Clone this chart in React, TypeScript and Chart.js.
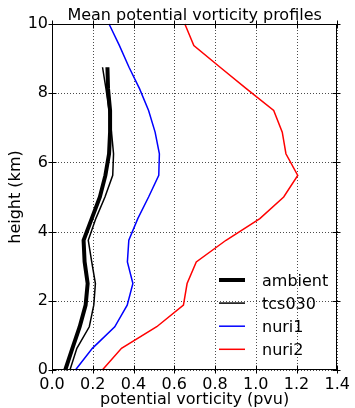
import React, { useEffect, useRef } from 'react';
import { Chart, registerables } from 'chart.js';

Chart.register(...registerables);

// ---- data ----
const heightsKm = [0, 0.625, 1.25, 1.875, 2.5, 3.125, 3.75, 4.375, 5.0, 5.625, 6.25, 6.875, 7.5, 8.125, 8.75, 9.375, 10.0];
const ambientPV = [0.065, 0.1, 0.136, 0.165, 0.175, 0.16, 0.155, 0.195, 0.235, 0.262, 0.28, 0.285, 0.285, 0.275, 0.272];
const tcs030PV = [0.088, 0.122, 0.183, 0.205, 0.213, 0.195, 0.178, 0.215, 0.26, 0.298, 0.302, 0.292, 0.28, 0.265, 0.248];
const nuri1PV = [0.115, 0.198, 0.308, 0.369, 0.397, 0.37, 0.377, 0.421, 0.474, 0.524, 0.527, 0.506, 0.474, 0.43, 0.378, 0.331, 0.28];
const nuri2PV = [0.247, 0.341, 0.514, 0.645, 0.663, 0.708, 0.854, 1.02, 1.137, 1.206, 1.148, 1.13, 1.088, 0.955, 0.825, 0.696, 0.652];
const seriesLabels = ['ambient', 'tcs030', 'nuri1', 'nuri2'];
const xTickValues = [0, 0.2, 0.4, 0.6, 0.8, 1.0, 1.2, 1.4];
const yTickValues = [0, 2, 4, 6, 8, 10];
const titleText = 'Mean potential vorticity profiles';
const xLabelText = 'potential vorticity (pvu)';
const yLabelText = 'height (km)';

const FONT_FAMILY = '"DejaVu Sans", Verdana, sans-serif';

const toPoints = (vals: number[]) => vals.map((v, i) => ({ x: v, y: heightsKm[i] }));

const decorPlugin = {
  id: 'decor',
  beforeDatasetsDraw(chart: any) {
    const { ctx, chartArea, scales } = chart;
    const { left, right, top, bottom } = chartArea;
    ctx.save();
    ctx.strokeStyle = 'rgba(0,0,0,0.7)';
    ctx.lineWidth = 1;
    ctx.setLineDash([1, 2]);
    scales.x.ticks.forEach((t: any) => {
      const px = Math.round(scales.x.getPixelForValue(t.value)) + 0.5;
      ctx.beginPath();
      ctx.moveTo(px, top);
      ctx.lineTo(px, bottom);
      ctx.stroke();
    });
    scales.y.ticks.forEach((t: any) => {
      const py = Math.round(scales.y.getPixelForValue(t.value)) + 0.5;
      ctx.beginPath();
      ctx.moveTo(left, py);
      ctx.lineTo(right, py);
      ctx.stroke();
    });
    ctx.restore();
  },
  afterDatasetsDraw(chart: any) {
    const { ctx, chartArea, scales, data } = chart;
    const { left, right, top, bottom } = chartArea;
    const L = Math.round(left) + 0.5;
    const R = Math.round(right) - 0.5;
    const T = Math.round(top) + 0.5;
    const B = Math.round(bottom) - 0.5;
    ctx.save();
    ctx.setLineDash([]);
    ctx.strokeStyle = '#000';
    ctx.lineWidth = 1;
    ctx.strokeRect(L, T, R - L, B - T);
    const tk = 4;
    scales.x.ticks.forEach((t: any) => {
      const px = Math.round(scales.x.getPixelForValue(t.value)) + 0.5;
      ctx.beginPath();
      ctx.moveTo(px, B - tk);
      ctx.lineTo(px, B + tk);
      ctx.moveTo(px, T - tk);
      ctx.lineTo(px, T + tk);
      ctx.stroke();
    });
    scales.y.ticks.forEach((t: any) => {
      const py = Math.round(scales.y.getPixelForValue(t.value)) + 0.5;
      ctx.beginPath();
      ctx.moveTo(L - tk, py);
      ctx.lineTo(L + tk, py);
      ctx.moveTo(R - tk, py);
      ctx.lineTo(R + tk, py);
      ctx.stroke();
    });

    // legend
    ctx.font = `16px ${FONT_FAMILY}`;
    ctx.fillStyle = '#000';
    ctx.textAlign = 'left';
    ctx.textBaseline = 'alphabetic';
    const lx0 = 219;
    const lx1 = 245;
    const tx = 262;
    const y0 = 280;
    const dy = 23.1;
    data.datasets.forEach((ds: any, i: number) => {
      const ly = y0 + i * dy;
      ctx.strokeStyle = ds.borderColor;
      ctx.lineWidth = ds.borderWidth;
      ctx.beginPath();
      ctx.moveTo(lx0, ly);
      ctx.lineTo(lx1, ly);
      ctx.stroke();
      ctx.fillText(ds.label, tx, ly + 5.5);
    });

    // title and axis labels
    const cx = (left + right) / 2;
    ctx.textAlign = 'center';
    ctx.fillText(titleText, cx, 20);
    ctx.fillText(xLabelText, cx, 404);
    ctx.translate(20, (top + bottom) / 2);
    ctx.rotate(-Math.PI / 2);
    ctx.fillText(yLabelText, 0, 0);
    ctx.restore();
  },
};

export default function App() {
  const canvasRef = useRef<HTMLCanvasElement | null>(null);

  useEffect(() => {
    const canvas = canvasRef.current;
    if (!canvas) return;
    const chart = new Chart(canvas, {
      type: 'scatter',
      data: {
        datasets: [
          { label: seriesLabels[0], data: toPoints(ambientPV), borderColor: '#000000', backgroundColor: '#000000', borderWidth: 4, showLine: true, pointRadius: 0, tension: 0 },
          { label: seriesLabels[1], data: toPoints(tcs030PV), borderColor: '#000000', backgroundColor: '#000000', borderWidth: 1.5, showLine: true, pointRadius: 0, tension: 0 },
          { label: seriesLabels[2], data: toPoints(nuri1PV), borderColor: '#0000ff', backgroundColor: '#0000ff', borderWidth: 1.5, showLine: true, pointRadius: 0, tension: 0 },
          { label: seriesLabels[3], data: toPoints(nuri2PV), borderColor: '#ff0000', backgroundColor: '#ff0000', borderWidth: 1.5, showLine: true, pointRadius: 0, tension: 0 },
        ],
      },
      options: {
        animation: false,
        responsive: false,
        maintainAspectRatio: false,
        clip: false,
        layout: { padding: { left: 0, right: 14, top: 24, bottom: 0 } },
        plugins: {
          legend: { display: false },
          title: { display: false },
          tooltip: { enabled: false },
        },
        scales: {
          x: {
            type: 'linear',
            min: 0,
            max: 1.4,
            afterBuildTicks: (scale: any) => {
              scale.ticks = xTickValues.map((v) => ({ value: v }));
            },
            afterFit: (scale: any) => {
              scale.height = 38;
            },
            grid: { display: false, drawTicks: false },
            border: { display: false },
            ticks: {
              color: '#000',
              padding: 5,
              font: { family: FONT_FAMILY, size: 16 },
              maxRotation: 0,
              autoSkip: false,
              callback: (v: any) => Number(v).toFixed(1),
            },
          },
          y: {
            type: 'linear',
            min: 0,
            max: 10,
            afterBuildTicks: (scale: any) => {
              scale.ticks = yTickValues.map((v) => ({ value: v }));
            },
            afterFit: (scale: any) => {
              scale.width = 52;
            },
            grid: { display: false, drawTicks: false },
            border: { display: false },
            ticks: {
              color: '#000',
              padding: 4,
              font: { family: FONT_FAMILY, size: 16 },
              autoSkip: false,
              callback: (v: any) => String(v),
            },
          },
        },
      },
      plugins: [decorPlugin],
    });
    return () => chart.destroy();
  }, []);

  return (
    <div style={{ position: 'fixed', left: 0, top: 0, width: 355, height: 408, background: '#fff' }}>
      <canvas ref={canvasRef} width={355} height={408} style={{ display: 'block', width: 355, height: 408 }} />
    </div>
  );
}
